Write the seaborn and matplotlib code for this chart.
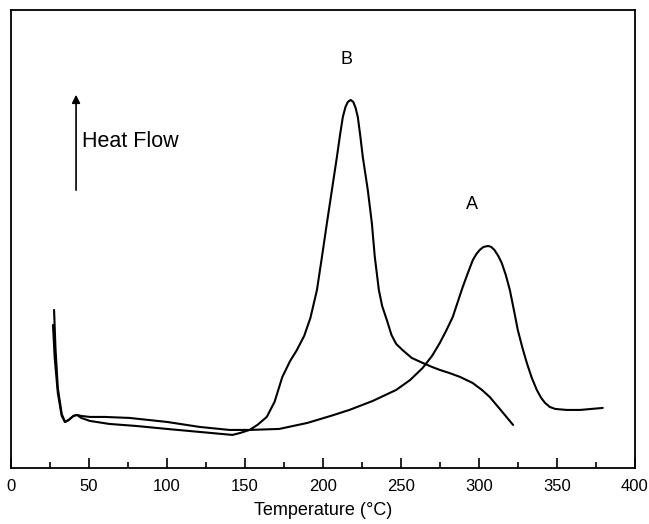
import numpy as np
import pandas as pd
import matplotlib
matplotlib.use("Agg")
import matplotlib.pyplot as plt
from matplotlib.ticker import MultipleLocator
import seaborn as sns

# DSC traces (temperature in degC, heat flow in arbitrary units)
temp_a = [26.9, 28.0, 30.0, 32.5, 34.6, 37.0, 40.0, 42.3, 45.0, 50.6, 60.0, 76.0, 100.0,
          121.0, 140.0, 153.0, 172.0, 190.0, 205.0, 217.0, 232.0, 247.0, 256.0, 264.0,
          270.0, 275.0, 279.0, 283.3, 286.5, 289.7, 293.0, 296.2, 298.5, 300.6, 303.0,
          306.0, 308.0, 310.0, 312.5, 314.7, 317.3, 319.9, 322.5, 325.0, 328.0, 330.8,
          334.0, 337.2, 340.0, 342.5, 345.5, 349.0, 356.4, 365.0, 379.5]
flow_a = [143, 110, 75, 52, 46, 48, 52, 53, 52, 51, 51, 50, 46,
          41, 38, 38, 39, 45, 52, 58, 67, 78, 88, 100,
          112, 125, 137, 151, 166, 181, 195, 208, 214, 218, 221,
          222, 221, 218, 212, 205, 193, 178, 158, 138, 120, 105,
          90, 78, 70, 65, 61, 59, 58, 58, 60]

temp_b = [27.6, 28.5, 30.0, 32.5, 34.6, 37.0, 40.0, 42.3, 45.0, 50.6, 63.0, 80.0, 100.0,
          121.0, 135.0, 142.0, 147.0, 153.0, 158.0, 164.0, 169.0, 174.0, 179.0, 183.0,
          188.0, 192.0, 196.2, 199.4, 202.6, 205.8, 209.0, 211.0, 212.8, 214.5, 216.0,
          217.8, 219.5, 221.0, 222.4, 224.0, 225.6, 228.8, 231.4, 233.3, 235.9, 238.0,
          241.0, 244.0, 247.0, 251.0, 257.0, 264.0, 270.0, 275.0, 281.0, 288.0, 296.0,
          302.0, 307.0, 314.0, 322.0]
flow_b = [158, 120, 80, 54, 46, 48, 52, 53, 50, 47, 44, 42, 39,
          36, 34, 33, 35, 38, 43, 51, 66, 91, 107, 117,
          132, 150, 178, 211, 245, 278, 311, 333, 351, 361, 366,
          368, 366, 360, 351, 332, 311, 278, 245, 211, 178, 162,
          148, 133, 124, 118, 110, 105, 101, 98, 95, 91, 85,
          78, 71, 58, 43]

df = pd.concat([
    pd.DataFrame({"Temperature": temp_a, "Heat flow": flow_a, "sample": "A"}),
    pd.DataFrame({"Temperature": temp_b, "Heat flow": flow_b, "sample": "B"}),
])

sns.set_style("white")
plt.rcParams["font.family"] = ["Liberation Sans", "DejaVu Sans"]
plt.rcParams["text.color"] = "black"
plt.rcParams["xtick.color"] = "black"
plt.rcParams["axes.labelcolor"] = "black"

fig = plt.figure(figsize=(6.49, 5.24), dpi=100)
ax = fig.add_axes([0.017, 0.107, 0.961, 0.874])

sns.lineplot(data=df, x="Temperature", y="Heat flow", units="sample", estimator=None,
             sort=False, color="black", linewidth=1.5, ax=ax)

ax.set_xlim(0, 400)
ax.set_ylim(0, 458)
ax.xaxis.set_major_locator(MultipleLocator(50))
ax.xaxis.set_minor_locator(MultipleLocator(25))
ax.tick_params(axis="x", which="major", direction="in", length=7, width=1.2,
               labelsize=12, pad=8, bottom=True)
ax.tick_params(axis="x", which="minor", direction="in", length=4, width=1.2, bottom=True)
ax.set_yticks([])
ax.set_ylabel("")
ax.set_xlabel("Temperature (°C)", fontsize=13, labelpad=6)
for s in ax.spines.values():
    s.set_color("black")
    s.set_linewidth(1.3)

# annotations
ax.annotate("", xy=(41.7, 376), xytext=(41.7, 275),
            arrowprops=dict(arrowstyle="-|>", color="black", lw=1.2, mutation_scale=12))
ax.text(45.5, 326, "Heat Flow", fontsize=15.5, va="center", ha="left")
ax.text(215, 408, "B", fontsize=13, ha="center", va="center")
ax.text(295.5, 263, "A", fontsize=13, ha="center", va="center")

fig.savefig("out.png", dpi=100)
